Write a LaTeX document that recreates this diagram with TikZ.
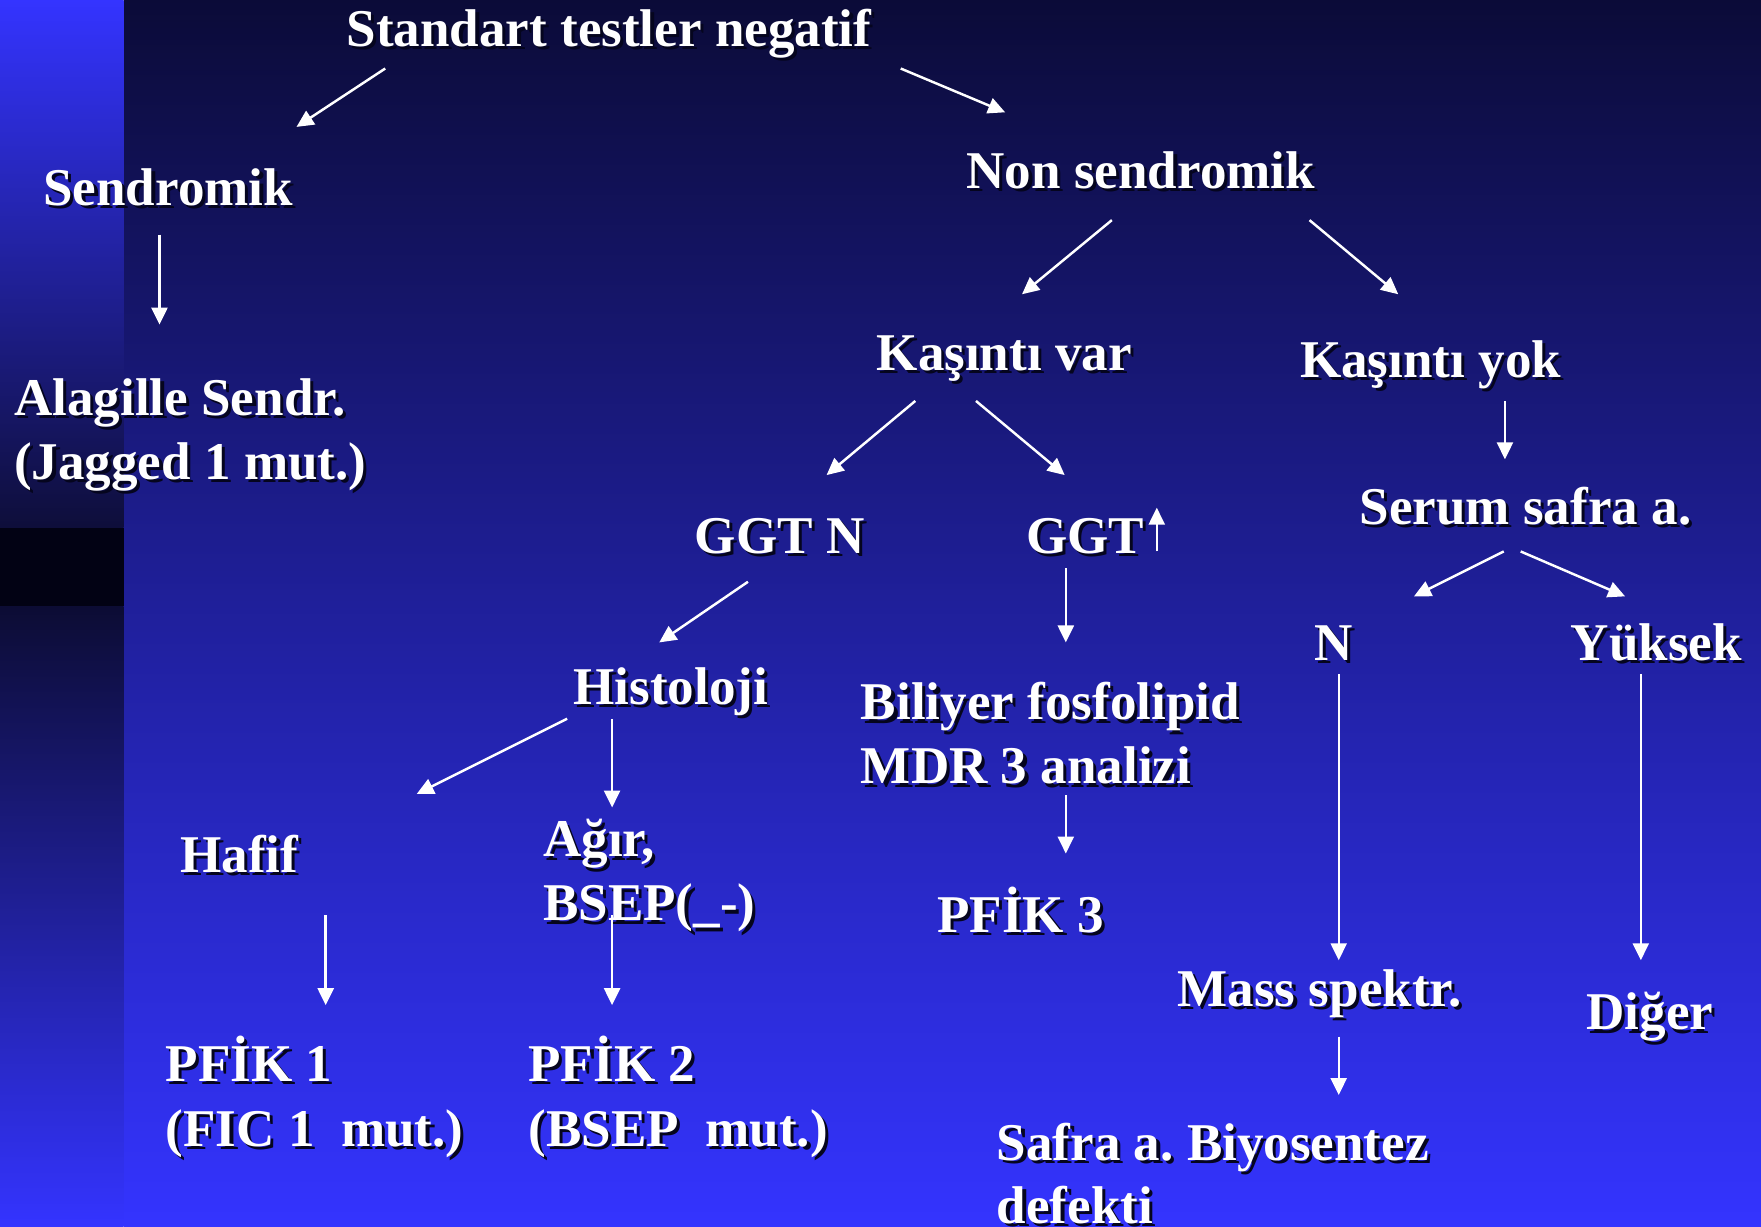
\documentclass[tikz,border=0pt]{standalone}
\usepackage{fontspec}
\setmainfont{Liberation Serif}
\usetikzlibrary{arrows.meta}
\definecolor{bgtop}{RGB}{11,11,56}
\definecolor{bgbot}{RGB}{52,52,255}
\definecolor{stripmid}{RGB}{14,14,58}
\definecolor{stripdark}{RGB}{2,2,20}
\definecolor{stripmidb}{RGB}{12,12,52}
\definecolor{shadowc}{RGB}{5,5,30}
\newcommand\sh[1]{\makebox[0pt][l]{\kern0.06em\raisebox{-0.06em}{\textcolor{shadowc}{#1}}}#1}
\frenchspacing
\begin{document}
\begin{tikzpicture}[x=0.011231cm,y=-0.011231cm,
  lbl/.style={anchor=base west, inner sep=0pt, text=white, font=\fontsize{15.1}{18}\selectfont\bfseries},
  arr/.style={draw=white, line width=0.7pt, -{Triangle[width=0.16cm,length=0.17cm]}}]
\useasboundingbox (0,0) rectangle (1568,1092);
% background
\shade[top color=bgtop, bottom color=bgbot] (110,0) rectangle (1568,1092);
\shade[top color=bgbot, bottom color=stripmid] (0,0) rectangle (110,470);
\fill[stripdark] (0,470) rectangle (110,540);
\shade[top color=stripmidb, bottom color=bgbot] (0,540) rectangle (110,1092);
% nodes
\node[lbl] (std) at (308,41) {\sh{Standart testler negatif}};
\node[lbl] (send) at (38,183) {\sh{Sendromik}};
\node[lbl] (alag1) at (12,370) {\sh{Alagille Sendr.}};
\node[lbl] (alag2) at (12,427) {\sh{(Jagged 1 mut.)}};
\node[lbl] (nons) at (860,168) {\sh{Non sendromik}};
\node[lbl] (kvar) at (780,330) {\sh{Kaşıntı var}};
\node[lbl] (kyok) at (1157,336) {\sh{Kaşıntı yok}};
\node[lbl] (ggtn) at (618,493) {\sh{GGT N}};
\node[lbl] (ggtu) at (913,493) {\sh{GGT}};
\node[lbl] (serum) at (1210,467) {\sh{Serum safra a.}};
\node[lbl] (nn) at (1170,588) {\sh{N}};
\node[lbl] (yuk) at (1398,588) {\sh{Yüksek}};
\node[lbl] (hist) at (510,627) {\sh{Histoloji}};
\node[lbl] (bil1) at (766,641) {\sh{Biliyer fosfolipid}};
\node[lbl] (bil2) at (766,698) {\sh{MDR 3 analizi}};
\node[lbl] (hafif) at (160,777) {\sh{Hafif}};
\node[lbl] (agir1) at (483,763) {\sh{Ağır,}};
\node[lbl] (agir2) at (483,820) {\sh{BSEP(\_-)}};
\node[lbl] (pfik3) at (834,830) {\sh{PFİK 3}};
\node[lbl] (mass) at (1048,896) {\sh{Mass spektr.}};
\node[lbl] (diger) at (1412,917) {\sh{Diğer}};
\node[lbl] (pf1a) at (147,963) {\sh{PFİK 1}};
\node[lbl] (pf1b) at (147,1021) {\sh{(FIC 1\ \ mut.)}};
\node[lbl] (pf2a) at (470,963) {\sh{PFİK 2}};
\node[lbl] (pf2b) at (470,1021) {\sh{(BSEP\ \ mut.)}};
\node[lbl] (saf1) at (887,1033) {\sh{Safra a. Biyosentez}};
\node[lbl] (saf2) at (887,1089) {\sh{defekti}};
% arrow end points
\coordinate (a1s) at (343,61);   \coordinate (a1e) at (264,113);
\coordinate (a2s) at (802,61);   \coordinate (a2e) at (895,100);
\coordinate (a3s) at (142,209);  \coordinate (a3e) at (142,289);
\coordinate (a4s) at (990,196);  \coordinate (a4e) at (910,262);
\coordinate (a5s) at (1166,196); \coordinate (a5e) at (1245,262);
\coordinate (a6s) at (815,357);  \coordinate (a6e) at (736,423);
\coordinate (a7s) at (869,357);  \coordinate (a7e) at (948,423);
\coordinate (a8s) at (1340,357); \coordinate (a8e) at (1340,409);
\coordinate (a9s) at (666,518);  \coordinate (a9e) at (587,572);
\coordinate (a10s) at (949,506); \coordinate (a10e) at (949,572);
\coordinate (a11s) at (1339,491);\coordinate (a11e) at (1259,531);
\coordinate (a12s) at (1354,491);\coordinate (a12e) at (1447,531);
\coordinate (a13s) at (505,640); \coordinate (a13e) at (371,707);
\coordinate (a14s) at (545,640); \coordinate (a14e) at (545,719);
\coordinate (a15s) at (1192,600);\coordinate (a15e) at (1192,855);
\coordinate (a16s) at (1461,600);\coordinate (a16e) at (1461,855);
\coordinate (a17s) at (949,708); \coordinate (a17e) at (949,760);
\coordinate (a18s) at (290,815); \coordinate (a18e) at (290,895);
\coordinate (a19s) at (545,815); \coordinate (a19e) at (545,895);
\coordinate (a20s) at (1192,923);\coordinate (a20e) at (1192,975);
\coordinate (upS) at (1030,491); \coordinate (upE) at (1030,452);
% arrows
\foreach \i in {1,...,20} {\draw[arr] (a\i s) -- (a\i e);}
\draw[arr] (upS) -- (upE);
\end{tikzpicture}
\end{document}
